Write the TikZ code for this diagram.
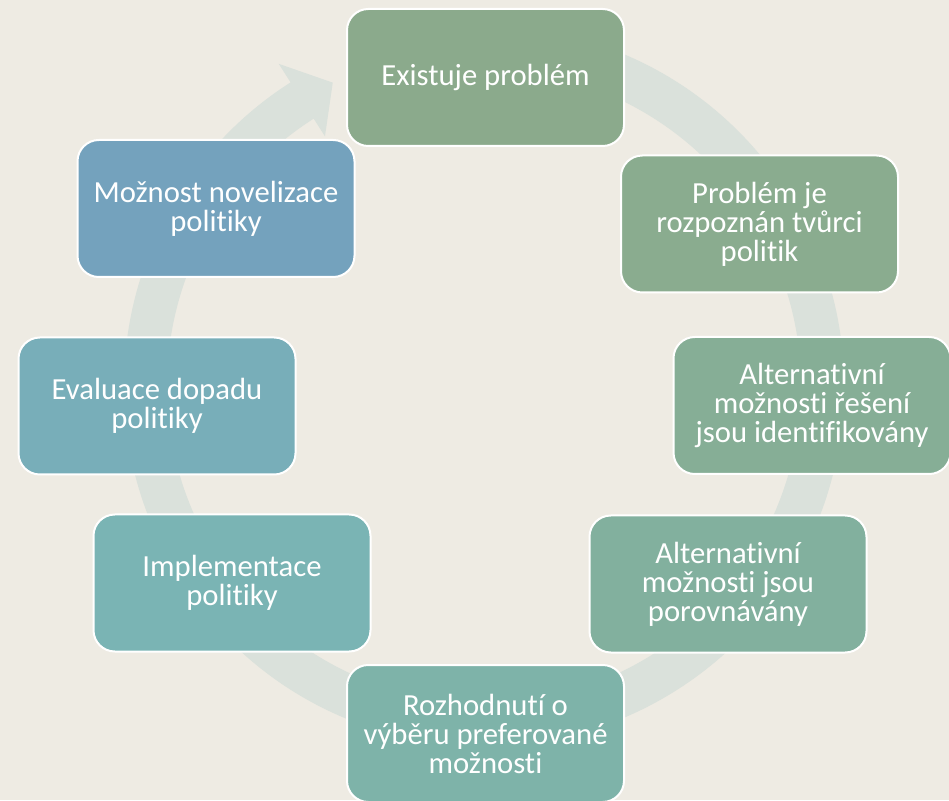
\documentclass[tikz,border=0pt]{standalone}
\usepackage{fontspec}
\setmainfont[Ligatures=NoCommon]{Carlito}
\definecolor{bg}{HTML}{EEEBE3}
\definecolor{ringcol}{HTML}{DAE1DB}
\definecolor{c1}{HTML}{8BAA8C}
\definecolor{c2}{HTML}{8AAC8F}
\definecolor{c3}{HTML}{86AE96}
\definecolor{c4}{HTML}{82B09E}
\definecolor{c5}{HTML}{7EB3A9}
\definecolor{c6}{HTML}{7AB4B4}
\definecolor{c7}{HTML}{78AEB9}
\definecolor{c8}{HTML}{74A2BD}
\tikzstyle{stage} = [rectangle, rounded corners=16pt, minimum width=207.75pt, minimum height=102.75pt, align=center, text=white, draw=white, line width=1.5pt, font=\fontsize{23}{21.75}\selectfont]

\begin{document}
\begin{tikzpicture}[x=0.75pt, y=0.75pt]
    \fill[bg] (0,0) rectangle (949,800);
    \useasboundingbox (0,0) rectangle (949,800);
    \begin{scope}[shift={(484,414)}]
        \fill[ringcol] (80:360) arc[start angle=80, end angle=-237.5, radius=360] -- (-237.5:382) -- (-243.5:339) -- (-237.5:296) -- (-237.5:317) arc[start angle=-237.5, end angle=80, radius=317] -- cycle;
    \end{scope}
    \node (exist) [stage, fill=c1] at (485.5,722.5) {Existuje problém};
    \node (recognised) [stage, fill=c2] at (759.5,576) {Problém je\\rozpoznán tvůrci\\politik};
    \node (alternatives) [stage, fill=c3] at (812,394.5) {Alternativní\\možnosti řešení\\jsou identifikovány};
    \node (compared) [stage, fill=c4] at (728,216) {Alternativní\\možnosti jsou\\porovnávány};
    \node (decision) [stage, fill=c5] at (485.5,66.5) {Rozhodnutí o\\výběru preferované\\možnosti};
    \node (implement) [stage, fill=c6] at (232,217) {Implementace\\politiky};
    \node (evaluate) [stage, fill=c7] at (157,394) {Evaluace dopadu\\politiky};
    \node (amend) [stage, fill=c8] at (216,591.5) {Možnost novelizace\\politiky};
\end{tikzpicture}
\end{document}
